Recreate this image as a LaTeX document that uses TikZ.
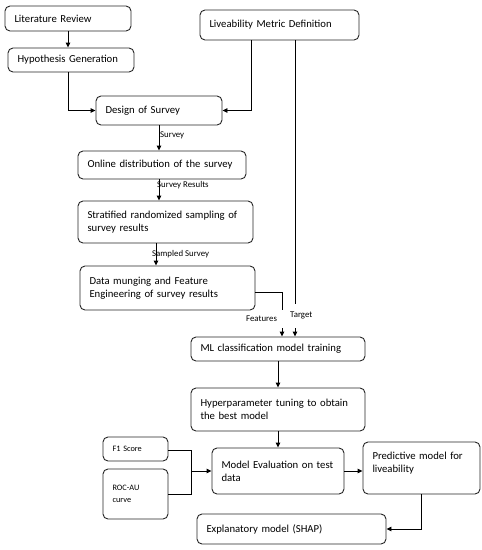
\documentclass[tikz,border=0pt]{standalone}
\usepackage{fontspec}
\setmainfont{Carlito}
\usetikzlibrary{arrows.meta}
\tikzset{
  box/.style={draw=black!85, line width=0.9pt, rounded corners=5pt, align=left,
    inner xsep=9.5pt, inner ysep=0pt, font=\fontsize{10.7}{13}\selectfont},
  sbox/.style={box, font=\fontsize{8.3}{12}\selectfont},
  lbl/.style={font=\fontsize{8.8}{10}\selectfont, inner sep=0pt, anchor=west},
  conn/.style={draw=black, line width=0.9pt},
  arr/.style={conn, -{Triangle[length=5pt,width=4.5pt]}}
}
\newcommand{\bx}[7]{% style, name, x1, y1, x2, y2, text
  \pgfmathsetmacro{\bw}{#5-#3}\pgfmathsetmacro{\bh}{#6-#4}
  \node[#1, minimum width=\bw pt, minimum height=\bh pt, text width=\bw pt - 19pt]
    (#2) at ({(#3+#5)/2},{(#4+#6)/2}) {#7};}
\begin{document}
\begin{tikzpicture}[x=1pt,y=-1pt]
\useasboundingbox[fill=white] (0,0) rectangle (482,550);
\bx{box}{lit}{5}{6}{131}{31}{Literature Review}
\bx{box}{hyp}{8}{48}{134}{72}{Hypothesis Generation}
\bx{box}{live}{200}{10}{359}{40}{Liveability Metric Definition}
\bx{box}{design}{96}{96}{222}{125}{Design of Survey}
\bx{box}{online}{78}{151}{246}{179}{Online distribution of the survey}
\bx{box}{strat}{78}{201}{253}{243}{Stratified randomized sampling of\\survey results}
\bx{box}{data}{80}{266}{255}{310}{Data munging and Feature\\Engineering of survey results}
\bx{box}{ml}{191}{337}{365}{361}{ML classification model training}
\bx{box}{hyper}{191}{388}{365}{431}{Hyperparameter tuning to obtain\\the best model}
\bx{box}{eval}{212}{448}{344}{494}{Model Evaluation on test\\data}
\bx{sbox}{f1}{103}{437}{168}{461}{F1 Score}
\bx{sbox}{roc}{103}{469}{168}{519}{ROC-AU\\curve}
\bx{box}{pred}{363}{442}{480}{494}{Predictive model for\\liveability\\[-2pt]\mbox{}}
\bx{box}{expl}{197}{514}{386}{544}{Explanatory model (SHAP)}

% connectors
\draw[arr] (lit.south) -- (lit.south |- hyp.north);
\draw[arr] ([xshift=-3pt]hyp.south) |- (design.west);
\draw[arr] ([xshift=-28.5pt]live.south) |- (design.east);
\draw[arr] (design.south) -- (design.south |- online.north);
\node[lbl] (lsurvey) at (160,135) {Survey};
\draw[arr] ([xshift=-3pt]online.south) -- ([xshift=-3pt]online.south |- strat.north);
\node[lbl] (lresults) at (157,185) {Survey Results};
\draw[arr] ([xshift=-9.5pt]strat.south) -- ([xshift=-9.5pt]strat.south |- data.north);
\node[lbl] (lsampled) at (152,254) {Sampled Survey};
% features
\coordinate (fa) at (282,310);
\coordinate (fb) at (282,328);
\draw[conn] ([yshift=-4pt]data.east) -| (fa);
\node[lbl] (lfeat) at (246,319) {Features};
\draw[arr] (fb) -- (fb |- ml.north);
% target
\coordinate (ta) at (295,304);
\coordinate (tb) at (295,328);
\draw[conn] (live.south -| ta) -- (ta);
\node[lbl] (ltarget) at (290,315) {Target};
\draw[arr] (tb) -- (tb |- ml.north);
\draw[arr] (ml.south) -- (ml.south |- hyper.north);
\draw[arr] (hyper.south) -- (hyper.south |- eval.north);
% metrics
\coordinate (jx) at (191,469);
\draw[conn] ([yshift=-1pt]f1.east) -| (jx |- roc.east) -- (roc.east);
\draw[arr] (jx |- eval.west) -- (eval.west);
\draw[arr] (eval.east) -- (eval.east -| pred.west);
\draw[arr] (pred.south) |- (expl.east);
\end{tikzpicture}
\end{document}
